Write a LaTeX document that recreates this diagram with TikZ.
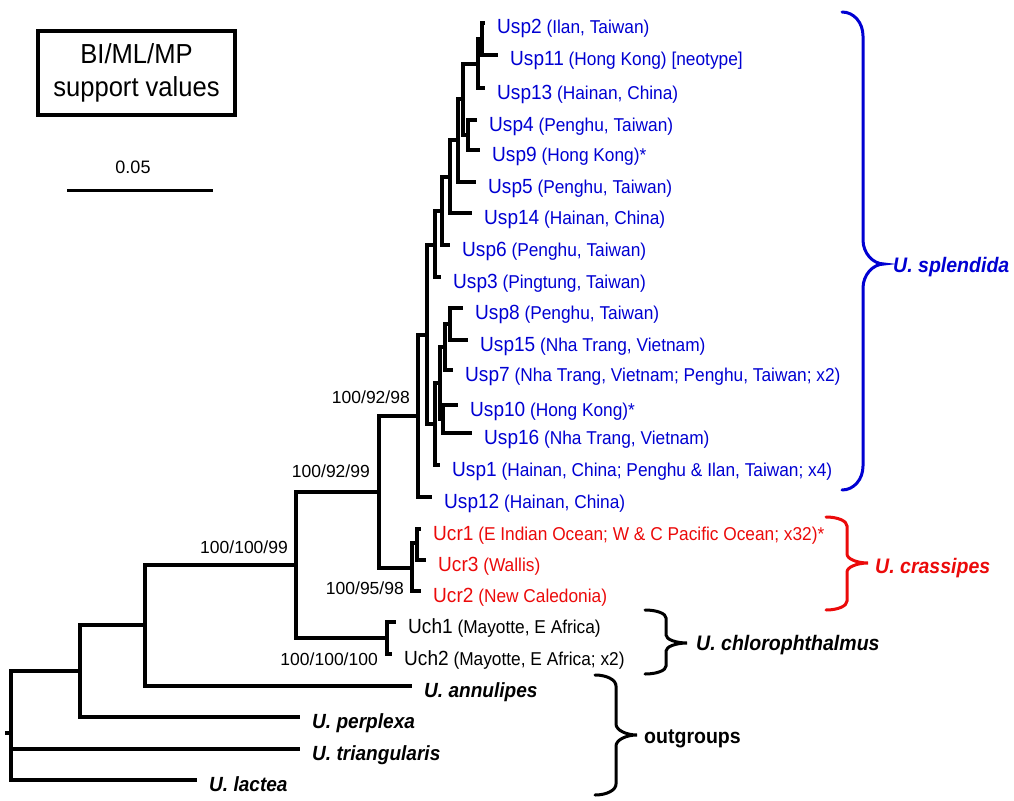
\documentclass[tikz,border=0pt]{standalone}
\usepackage{fontspec}
\setmainfont{Liberation Sans}[FakeStretch=0.93]
\newfontfamily\supfont{Liberation Sans}
\definecolor{uspblue}{RGB}{0,0,210}
\definecolor{ucrred}{RGB}{235,10,10}
\newcommand\otu[1]{{\fontsize{20.5}{24}\selectfont #1}}
% colour, x of hook ends, top, tip, bottom, bend
\newcommand\cladebrace[6]{
	\draw[cladebr, #1] (#2,#3) .. controls +(12,0) and +(0,{-0.55*#6}) .. ({#2+21},{#3+#6})
		-- ({#2+21},{#4-#6}) .. controls +(0,{0.55*#6}) and +(-11,0) .. ({#2+42},#4)
		.. controls +(-11,0) and +(0,{-0.55*#6}) .. ({#2+21},{#4+#6})
		-- ({#2+21},{#5-#6}) .. controls +(0,{0.55*#6}) and +(12,0) .. (#2,#5);
}
\begin{document}
\begin{tikzpicture}[x=1pt, y=-1pt,
	branch/.style={line width=3.5pt},
	tiplabel/.style={anchor=base west, inner sep=0pt, font=\fontsize{18.6}{22}\selectfont},
	usp/.style={tiplabel, text=uspblue},
	ucr/.style={tiplabel, text=ucrred},
	uch/.style={tiplabel},
	outg/.style={tiplabel, font=\fontsize{20.5}{24}\selectfont\bfseries\itshape},
	supval/.style={anchor=base east, inner sep=0pt, font=\supfont\fontsize{17.5}{20}\selectfont},
	cladename/.style={anchor=base west, inner sep=0pt, font=\fontsize{21}{24}\selectfont\bfseries\itshape},
	cladebr/.style={line width=3pt, line cap=round}]
	\useasboundingbox (0,0) rectangle (1014,800);
	
	% legend
	\node[draw, line width=4pt, minimum width=197pt, minimum height=84pt, inner sep=0pt, align=center, font=\fontsize{27.5}{33}\selectfont] (legend) at (136.5,73) {BI/ML/MP\\support values};
	
	% scale bar
	\coordinate (sbl) at (67,190);
	\coordinate (sbr) at (213,190);
	\draw[line width=3pt] (sbl) -- (sbr);
	\node[anchor=base, inner sep=0pt, font=\supfont\fontsize{18}{20}\selectfont] (sbval) at (133,173) {0.05};
	
	% internal nodes
	\foreach \n/\x/\y in {root/11/733, na/80/671, nb/145/625, nc/296/565, nuch/387/638, nd/379/492,
		nucr/412/568, nucra/417/543, ne/418/416, nf/427/335, nh/435/424, ni/440/383, nk/445/347,
		nj/450/324, nl/443/419, ng/435/245, nm/442/211, nu/450/177, nt/458/140, nr/463/99,
		ns/468/135, nq/478/64, np/482/39} {
		\coordinate (\n) at (\x,\y);
	}
	% tips
	\foreach \n/\x/\y in {tri/300/749, lac/197/780, per/300/717, ann/412/686, uch1/396/622, uch2/392/654,
		ucr1/421/529, ucr3/426/560, ucr2/421/591, usp12/432/497, usp1/440/465, usp7/453/370,
		usp8/463/308, usp15/468/340, usp10/458/405, usp16/472/433, usp3/441/277, usp6/450/245,
		usp14/472/213, usp5/476/182, usp4/477/120, usp9/480/150, usp13/485/88, usp2/485/23, usp11/498/55} {
		\coordinate (\n) at (\x,\y);
	}
	\coordinate (stub) at (5,733);
	
	% branches
	\draw[branch] (stub) -- (root);
	\foreach \p/\c in {root/na, root/tri, root/lac, na/nb, na/per, nb/nc, nb/ann, nc/nd, nc/nuch,
		nuch/uch1, nuch/uch2, nd/ne, nd/nucr, nucr/nucra, nucr/ucr2, nucra/ucr1, nucra/ucr3,
		ne/nf, ne/usp12, nf/ng, nf/nh, nh/ni, nh/usp1, ni/nk, ni/nl, nk/nj, nk/usp7,
		nj/usp8, nj/usp15, nl/usp10, nl/usp16, ng/nm, ng/usp3, nm/nu, nm/usp6, nu/nt, nu/usp14,
		nt/nr, nt/usp5, nr/nq, nr/ns, ns/usp4, ns/usp9, nq/np, nq/usp13, np/usp2, np/usp11} {
		\draw[branch] (\p) |- (\c);
	}
	
	% tip labels
	\foreach \t/\s/\txt in {
		usp2/usp/{\otu{Usp2} (Ilan, Taiwan)},
		usp11/usp/{\otu{Usp11} (Hong Kong) [neotype]},
		usp13/usp/{\otu{Usp13} (Hainan, China)},
		usp4/usp/{\otu{Usp4} (Penghu, Taiwan)},
		usp9/usp/{\otu{Usp9} (Hong Kong)*},
		usp5/usp/{\otu{Usp5} (Penghu, Taiwan)},
		usp14/usp/{\otu{Usp14} (Hainan, China)},
		usp6/usp/{\otu{Usp6} (Penghu, Taiwan)},
		usp3/usp/{\otu{Usp3} (Pingtung, Taiwan)},
		usp8/usp/{\otu{Usp8} (Penghu, Taiwan)},
		usp15/usp/{\otu{Usp15} (Nha Trang, Vietnam)},
		usp7/usp/{\otu{Usp7} (Nha Trang, Vietnam; Penghu, Taiwan; x2)},
		usp10/usp/{\otu{Usp10} (Hong Kong)*},
		usp16/usp/{\otu{Usp16} (Nha Trang, Vietnam)},
		usp1/usp/{\otu{Usp1} (Hainan, China; Penghu \& Ilan, Taiwan; x4)},
		usp12/usp/{\otu{Usp12} (Hainan, China)},
		ucr1/ucr/{\otu{Ucr1} (E Indian Ocean; W \& C Pacific Ocean; x32)*},
		ucr3/ucr/{\otu{Ucr3} (Wallis)},
		ucr2/ucr/{\otu{Ucr2} (New Caledonia)},
		uch1/uch/{\otu{Uch1} (Mayotte, E Africa)},
		uch2/uch/{\otu{Uch2} (Mayotte, E Africa; x2)},
		ann/outg/{U. annulipes},
		per/outg/{U. perplexa},
		tri/outg/{U. triangularis},
		lac/outg/{U. lactea}} {
		\node[\s] (\t-name) at ([xshift=12pt, yshift=-11pt]\t) {\txt};
	}
	
	% support values
	\node[supval] (bs1) at (410,403) {100/92/98};
	\node[supval] (bs2) at (370,477) {100/92/99};
	\node[supval] (bs3) at (288,553) {100/100/99};
	\node[supval] (bs4) at (404,594) {100/95/98};
	\node[supval] (bs5) at (378,665) {100/100/100};
	
	% clades
	\cladebrace{uspblue}{842}{12}{264}{490}{24}
	\cladebrace{ucrred}{826}{517}{563}{610}{9}
	\cladebrace{black}{645}{610}{643}{674}{8}
	\cladebrace{black}{595}{675}{735}{795}{11}
	\node[cladename, text=uspblue] (splendida) at (893,272) {U. splendida};
	\node[cladename, text=ucrred] (crassipes) at (875,573) {U. crassipes};
	\node[cladename] (chloro) at (696,650) {U. chlorophthalmus};
	\node[cladename, font=\fontsize{21}{24}\selectfont\bfseries] (outgroups) at (644,743) {outgroups};
\end{tikzpicture}
\end{document}
